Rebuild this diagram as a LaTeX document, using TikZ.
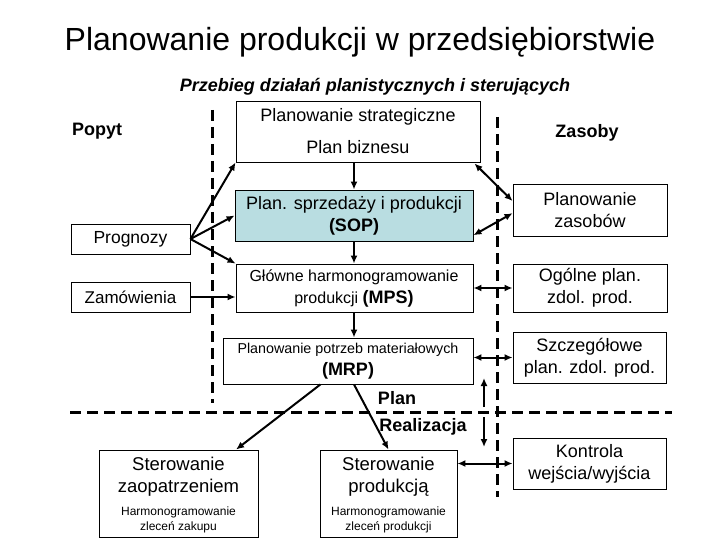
\documentclass[tikz,border=0pt]{standalone}
\usepackage{fontspec}
\setmainfont{Liberation Sans}
\usetikzlibrary{arrows.meta,calc}
\definecolor{sopfill}{HTML}{B9DDE1}
\begin{document}
\begin{tikzpicture}[x=1pt,y=-1pt,
  box/.style={draw,line width=0.9pt,rectangle,inner sep=0pt,align=center,font=\fontsize{18}{22}\selectfont},
  txt/.style={inner sep=0pt,align=center,font=\fontsize{18}{22}\selectfont},
  bold/.style={inner sep=0pt,font=\fontsize{18}{20}\selectfont\bfseries},
  big/.style={inner sep=0pt,align=center,font=\fontsize{18.5}{22}\selectfont},
  tiny/.style={inner sep=0pt,align=center,font=\fontsize{12}{15}\selectfont},
  arr/.style={line width=2pt,-{Latex[length=8pt,width=7pt]}},
  darr/.style={line width=2pt,{Latex[length=8pt,width=7pt]}-{Latex[length=8pt,width=7pt]}},
  sepline/.style={line width=3pt,dash pattern=on 11pt off 6pt}]
\useasboundingbox (0,0) rectangle (720,540);

% titles
\node[inner sep=0pt,font=\fontsize{32}{36}\selectfont] (title) at (360,42) {Planowanie produkcji w przedsiębiorstwie};
\node[inner sep=0pt,font=\fontsize{18}{20}\selectfont\bfseries\itshape] (sub) at (375,87) {Przebieg działań planistycznych i sterujących};

% separator lines
\draw[sepline] (212,110) -- (212,403);
\draw[sepline] (497,117) -- (497,497);
\draw[sepline] (70,412) -- (672,412);

% labels
\node[bold] (popyt) at (97,131) {Popyt};
\node[bold] (zasoby) at (587,133) {Zasoby};
\node[bold] (plan) at (397,398) {Plan};
\node[bold] (real) at (423,427) {Realizacja};

% central column
\node[box,minimum width=244pt,minimum height=61pt] (strat) at (358,131.5) {Planowanie strategiczne\\[10pt]Plan biznesu};
\node[box,fill=sopfill,minimum width=238pt,minimum height=51pt] (sop) at (354,215.5) {Plan. sprzedaży i produkcji\\\textbf{(SOP)}};
\node[box,minimum width=237pt,minimum height=48pt] (mps) at (354.5,288) {};
\node[inner sep=0pt,font=\fontsize{16}{18}\selectfont] (mpst1) at (354,277) {Główne harmonogramowanie};
\node[inner sep=0pt,font=\fontsize{16}{18}\selectfont] (mpst2) at (354,299) {produkcji \textbf{\fontsize{18}{20}\selectfont(MPS)}};
\node[box,minimum width=250pt,minimum height=46pt] (mrp) at (348,361) {};
\node[inner sep=0pt,font=\fontsize{14.3}{16}\selectfont] (mrpt1) at (348,350) {Planowanie potrzeb materiałowych};
\node[bold] (mrpt2) at (348,371) {(MRP)};

% left column
\node[box,font=\fontsize{17.5}{20}\selectfont,minimum width=119pt,minimum height=30pt] (prog) at (130.5,239) {Prognozy};
\node[box,font=\fontsize{17}{20}\selectfont,minimum width=119pt,minimum height=30pt] (zam) at (130.5,297) {Zamówienia};

% right column
\node[box,minimum width=154pt,minimum height=52pt] (pz) at (590,210) {Planowanie\\zasobów};
\node[box,minimum width=154pt,minimum height=48pt] (ogp) at (590,288) {Ogólne plan.\\zdol. prod.};
\node[box,minimum width=153pt,minimum height=51pt] (szcz) at (589.5,357.5) {Szczegółowe\\plan. zdol. prod.};
\node[box,minimum width=153pt,minimum height=51pt] (kon) at (589.5,463.5) {Kontrola\\wejścia/wyjścia};

% bottom boxes
\node[box,minimum width=159pt,minimum height=87pt] (sz) at (178.5,493.5) {};
\node[big] (szt1) at (178.5,477) {Sterowanie\\zaopatrzeniem};
\node[tiny] (szt2) at (178.5,519.5) {Harmonogramowanie\\zleceń zakupu};
\node[box,minimum width=137pt,minimum height=87pt] (sp) at (388.5,493.5) {};
\node[big] (spt1) at (388.5,477) {Sterowanie\\produkcją};
\node[tiny] (spt2) at (388.5,519.5) {Harmonogramowanie\\zleceń produkcji};

% arrows - left
\draw[arr] (prog.east) -- (strat.south west);
\draw[arr] (prog.east) -- (sop.west);
\draw[arr] (prog.east) -- (mps.north west);
\draw[arr] (zam.east) -- (zam.east -| mps.west);

% arrows - central
\draw[arr] (sop.north |- strat.south) -- (sop.north);
\draw[arr] (sop.south) -- (sop.south |- mps.north);
\draw[arr] (sop.south |- mps.south) -- (sop.south |- mrp.north);
\draw[arr] ($(mrp.south west)!0.39!(mrp.south east)$) -- ($(sz.north west)!0.86!(sz.north east)$);
\draw[arr] ($(mrp.south)+(6,0)$) -- (sp.north);

% arrows - right
\draw[darr] ($(strat.south east)+(-6,1)$) -- ($(pz.north west)!0.33!(pz.south west)$);
\draw[darr] ($(sop.north east)!0.88!(sop.south east)$) -- ($(pz.north west)!0.56!(pz.south west)$);
\draw[darr] (mps.east) -- (mps.east -| ogp.west);
\draw[darr] (mrp.east |- szcz.west) -- (szcz.west);
\draw[darr] (kon.west -| sp.east) -- (kon.west);

% plan/realizacja vertical arrows
\coordinate (up1) at (484,407);
\coordinate (up2) at (484,378);
\coordinate (dn1) at (484,417);
\coordinate (dn2) at (484,447);
\draw[arr] (up1) -- (up2);
\draw[arr] (dn1) -- (dn2);
\end{tikzpicture}
\end{document}
